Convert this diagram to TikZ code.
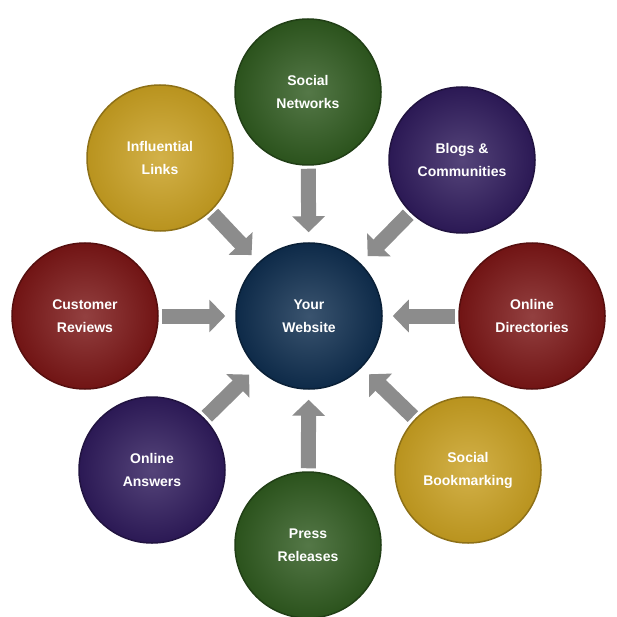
\documentclass[tikz,border=0pt]{standalone}
\usepackage{fontspec}
\setmainfont{Liberation Sans}
\usetikzlibrary{arrows.meta}
\definecolor{cgreen}{HTML}{2F5A1F}
\definecolor{cpurple}{HTML}{2F1B5C}
\definecolor{cred}{HTML}{7B1616}
\definecolor{cgold}{HTML}{C9A021}
\definecolor{cnavy}{HTML}{0F2E4F}
\definecolor{carrow}{HTML}{8C8C8C}
\tikzset{
  ball/.style={circle, minimum size=146pt, inner sep=0pt, draw=#1!70!black, line width=1.5pt,
    inner color=#1!82!white, outer color=#1!92!black, text=white, align=center,
    font=\fontsize{14}{23}\selectfont\bfseries},
  link/.style={draw=carrow, line width=15pt, -{Triangle[length=16pt,width=32pt]},
    shorten <=3pt, shorten >=10pt}
}
\begin{document}
\begin{tikzpicture}[x=1pt,y=-1pt]
\useasboundingbox (0,0) rectangle (617,617);
\node[ball=cnavy] (c) at (309,316) {Your\\Website};
\node[ball=cgreen] (n1) at (308,92) {Social\\Networks};
\node[ball=cpurple] (n2) at (462,160) {Blogs \&\\Communities};
\node[ball=cred] (n3) at (532,316) {Online\\Directories};
\node[ball=cgold] (n4) at (468,470) {Social\\Bookmarking};
\node[ball=cgreen] (n5) at (308,545) {Press\\Releases};
\node[ball=cpurple] (n6) at (152,470) {Online\\Answers};
\node[ball=cred] (n7) at (85,316) {Customer\\Reviews};
\node[ball=cgold] (n8) at (160,158) {Influential\\Links};
\foreach \n in {n1,n2,n3,n4,n5,n6,n7,n8}
  \draw[link] (\n) -- (c);
\end{tikzpicture}
\end{document}
